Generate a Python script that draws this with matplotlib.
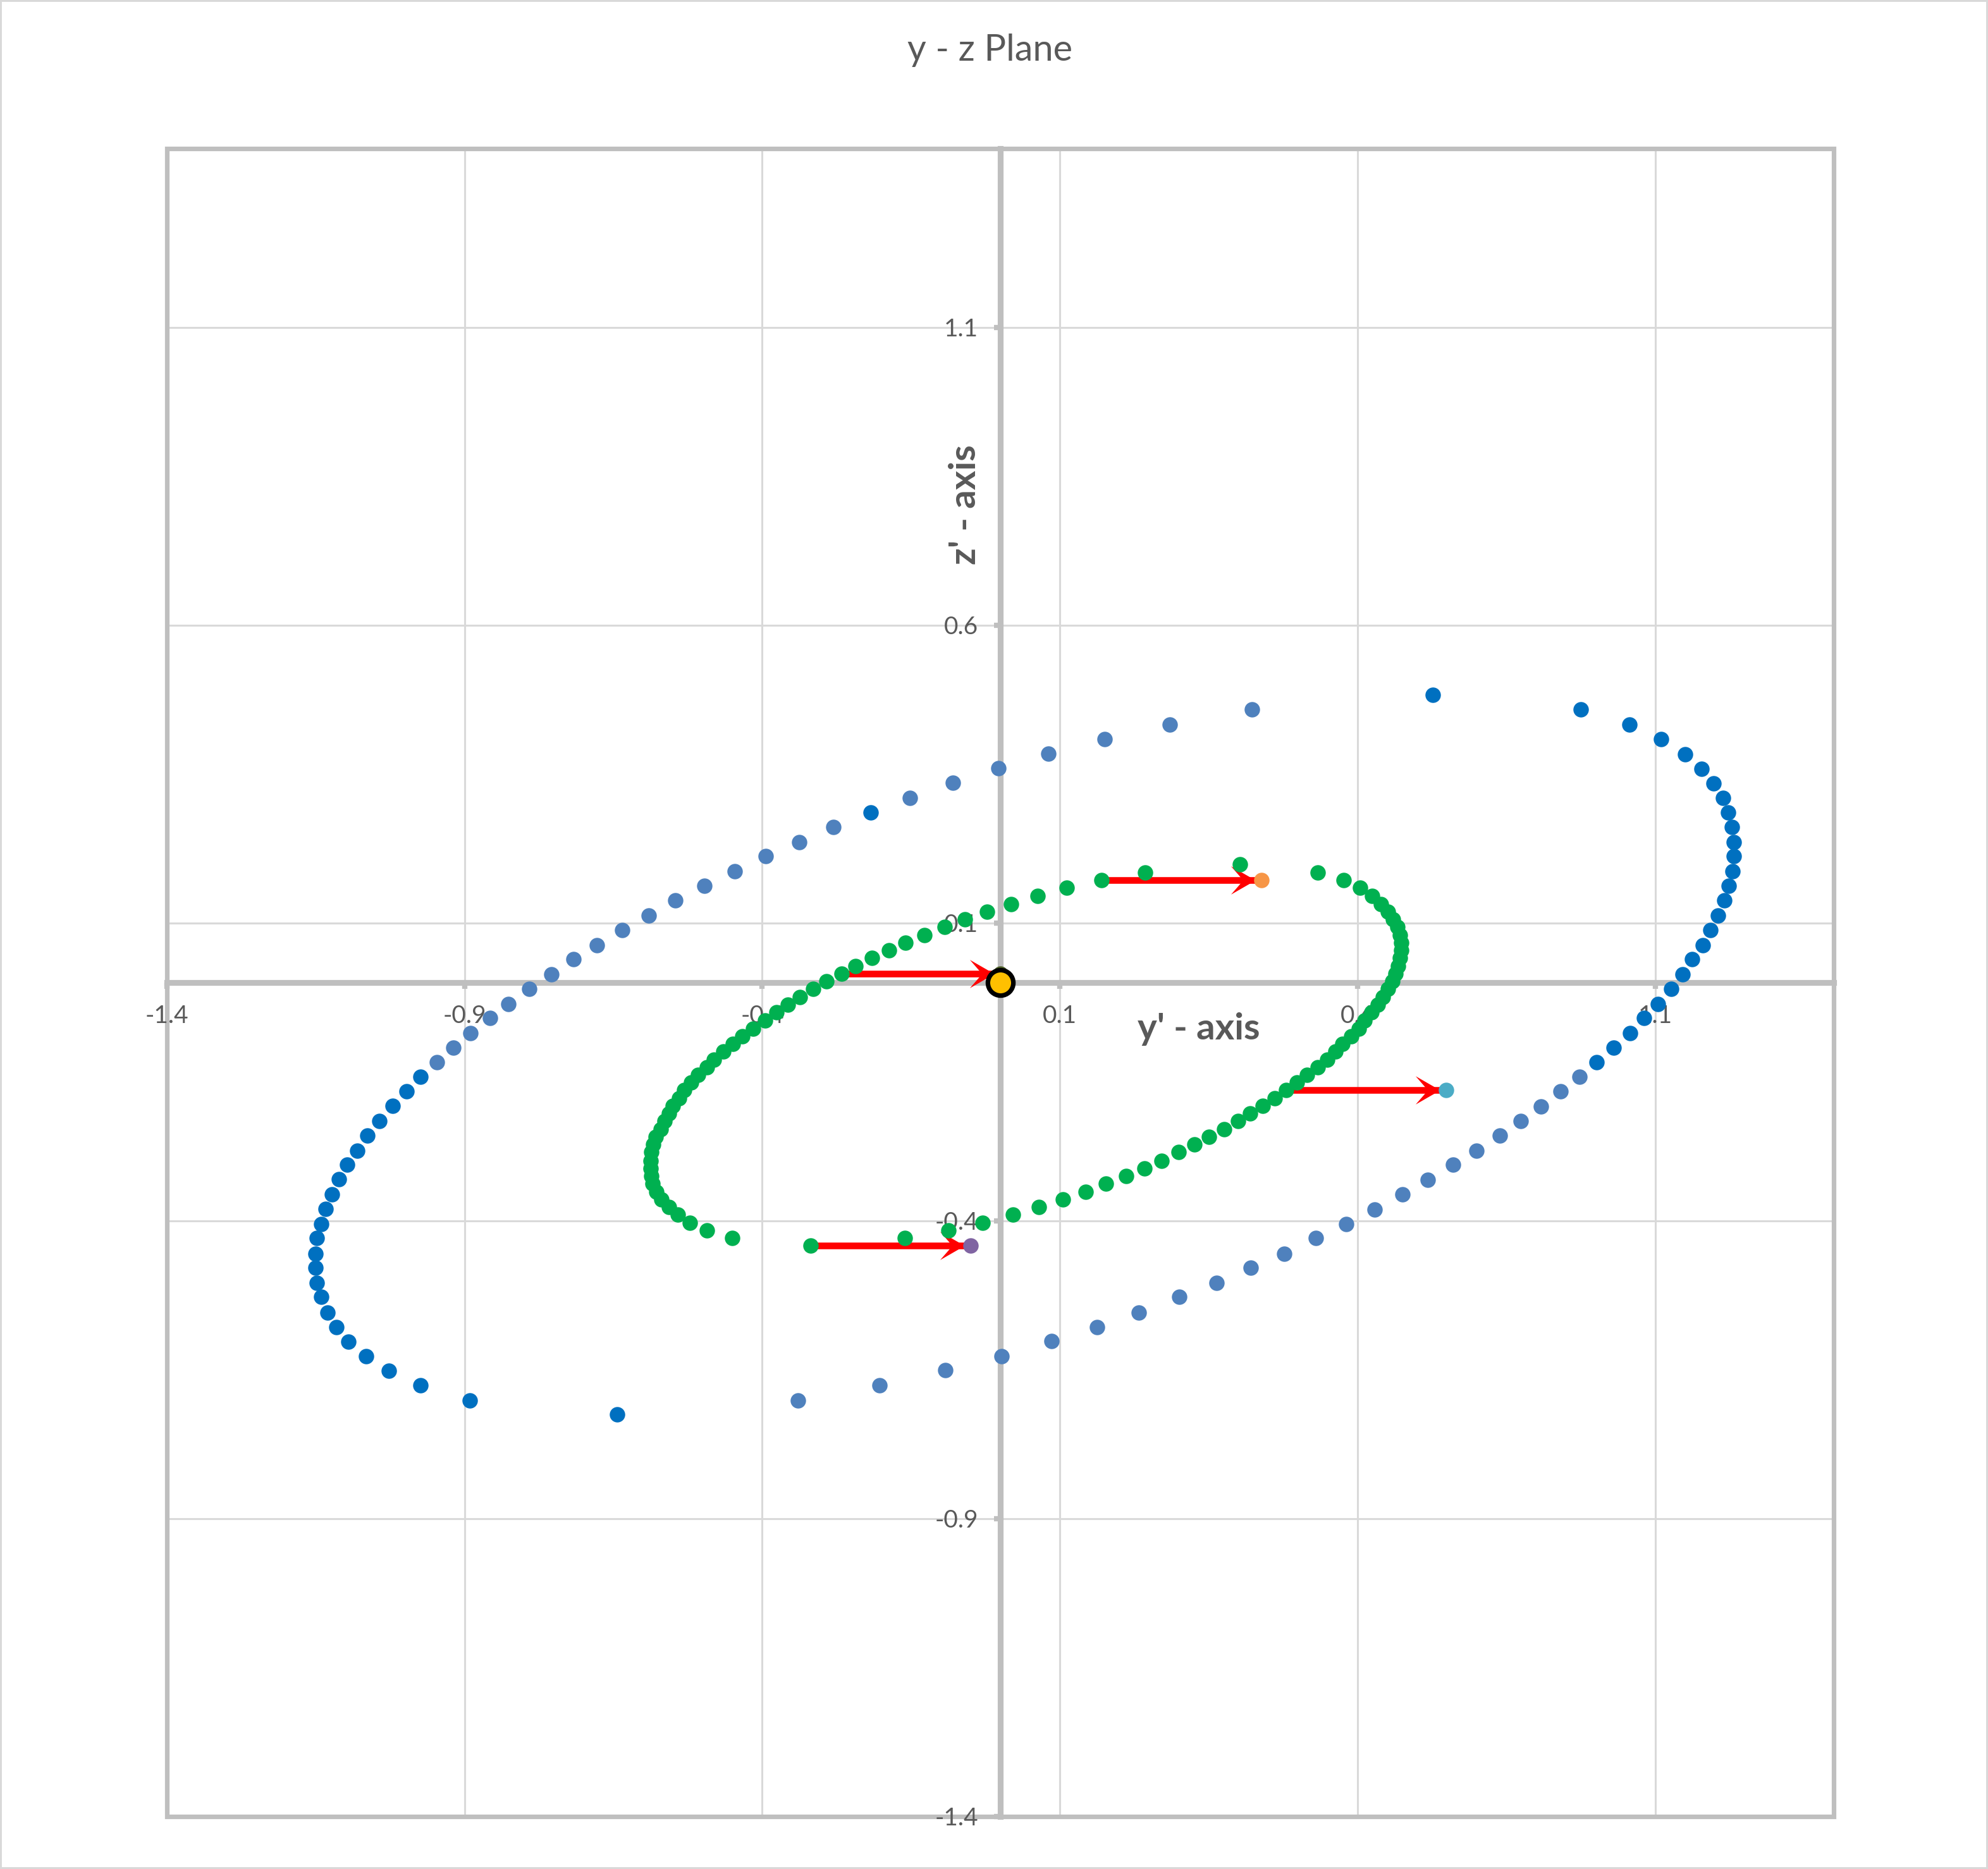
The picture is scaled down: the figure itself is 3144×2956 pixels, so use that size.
import matplotlib.pyplot as plt
from matplotlib.patches import Rectangle
from matplotlib.path import Path

plt.rcParams['font.family'] = ['Lato', 'DejaVu Sans']

# outer orbit, darker blue points (left end, two top points, right end)
blue_dark_y = [-0.644, -0.891, -0.974, -1.027, -1.066, -1.095, -1.115, -1.130, -1.141, -1.148,
               -1.150, -1.150, -1.148, -1.141, -1.134, -1.123, -1.111, -1.097, -1.080, -1.063,
               -1.043, -1.021, -0.998, -0.974,
               -0.218, 0.726,
               0.975, 1.057, 1.110, 1.150, 1.178, 1.198, 1.214, 1.223, 1.229, 1.232,
               1.232, 1.230, 1.224, 1.216, 1.206, 1.193, 1.180, 1.162, 1.146, 1.127,
               1.105, 1.081, 1.058, 1.030, 1.002]
blue_dark_z = [-0.725, -0.702, -0.676, -0.652, -0.627, -0.603, -0.578, -0.554, -0.528, -0.504,
               -0.479, -0.455, -0.429, -0.405, -0.380, -0.356, -0.330, -0.306, -0.282, -0.257,
               -0.233, -0.207, -0.183, -0.158,
               0.285, 0.483,
               0.459, 0.433, 0.409, 0.383, 0.359, 0.334, 0.310, 0.285, 0.261, 0.236,
               0.212, 0.187, 0.162, 0.138, 0.113, 0.088, 0.063, 0.039, 0.014, -0.011,
               -0.036, -0.060, -0.085, -0.109, -0.134]

# outer orbit, lighter blue points (upper-left and lower-right arcs)
blue_light_y = [-0.947, -0.919, -0.890, -0.857, -0.826, -0.791, -0.754, -0.717, -0.678, -0.635,
                -0.591, -0.546, -0.497, -0.446, -0.394, -0.338, -0.280,
                -0.152, -0.080, -0.003, 0.081, 0.175, 0.285, 0.423,
                0.973, 0.941, 0.908, 0.874, 0.839, 0.800, 0.760, 0.718, 0.675, 0.629,
                0.581, 0.530, 0.477, 0.421, 0.363, 0.301, 0.233, 0.162, 0.086, 0.002,
                -0.092, -0.203, -0.340]
blue_light_z = [-0.134, -0.109, -0.085, -0.059, -0.036, -0.011, 0.014, 0.039, 0.063, 0.088,
                0.113, 0.138, 0.162, 0.187, 0.212, 0.236, 0.261,
                0.310, 0.335, 0.360, 0.384, 0.409, 0.433, 0.459,
                -0.158, -0.183, -0.208, -0.233, -0.257, -0.282, -0.306, -0.331, -0.356, -0.381,
                -0.405, -0.429, -0.455, -0.479, -0.504, -0.528, -0.554, -0.578, -0.602, -0.627,
                -0.651, -0.676, -0.702]

# inner orbit, right branch (top point downwards)
green_right_y = [0.403, 0.533, 0.577, 0.604, 0.625, 0.639, 0.651, 0.660, 0.667, 0.671,
                 0.673, 0.673, 0.671, 0.668, 0.664, 0.658, 0.651, 0.643, 0.634, 0.623,
                 0.612, 0.602, 0.589, 0.575, 0.563, 0.549, 0.533, 0.515, 0.498, 0.480,
                 0.461, 0.441, 0.420, 0.399, 0.376, 0.351, 0.326, 0.299, 0.271, 0.242,
                 0.211, 0.177, 0.143, 0.105, 0.065, 0.021, -0.030, -0.087, -0.160]
green_right_z = [0.198, 0.185, 0.172, 0.159, 0.145, 0.132, 0.119, 0.106, 0.093, 0.080,
                 0.067, 0.054, 0.041, 0.028, 0.015, 0.002, -0.011, -0.024, -0.037, -0.050,
                 -0.064, -0.077, -0.090, -0.103, -0.116, -0.129, -0.142, -0.155, -0.168, -0.181,
                 -0.194, -0.207, -0.220, -0.233, -0.246, -0.259, -0.272, -0.285, -0.299, -0.312,
                 -0.325, -0.338, -0.351, -0.364, -0.377, -0.390, -0.403, -0.416, -0.429]

# inner orbit, left branch (bottom point upwards)
green_left_y = [-0.319, -0.450, -0.493, -0.522, -0.542, -0.557, -0.569, -0.578, -0.584, -0.586,
                -0.587, -0.587, -0.586, -0.583, -0.579, -0.571, -0.564, -0.557, -0.550, -0.540,
                -0.531, -0.520, -0.508, -0.493, -0.481, -0.465, -0.449, -0.433, -0.415, -0.395,
                -0.376, -0.357, -0.337, -0.315, -0.292, -0.267, -0.243, -0.216, -0.187, -0.159,
                -0.128, -0.094, -0.060, -0.022, 0.018, 0.063, 0.112, 0.170, 0.243]
green_left_z = [-0.442, -0.429, -0.416, -0.403, -0.390, -0.377, -0.364, -0.351, -0.338, -0.325,
                -0.312, -0.299, -0.285, -0.272, -0.259, -0.246, -0.233, -0.220, -0.207, -0.194,
                -0.181, -0.168, -0.155, -0.142, -0.129, -0.116, -0.103, -0.090, -0.077, -0.064,
                -0.050, -0.037, -0.024, -0.011, 0.002, 0.015, 0.028, 0.041, 0.054, 0.067,
                0.080, 0.093, 0.106, 0.119, 0.132, 0.145, 0.159, 0.172, 0.185]

# displacement arrows: from an inner-orbit point to a marked point
arrow_from_y = [0.170, -0.267, 0.480, -0.319]
arrow_to_y = [0.439, 0.000, 0.749, -0.050]
arrow_z = [0.172, 0.015, -0.181, -0.442]
arrow_target_colors = ['#F79646', '#4F6228', '#4BACC6', '#8064A2']

origin_y, origin_z = [0.0], [0.0]

tick_vals = [-1.4, -0.9, -0.4, 0.1, 0.6, 1.1]
tick_labels = ['-1.4', '-0.9', '-0.4', '0.1', '0.6', '1.1']

text_grey = '#595959'
axis_grey = '#BFBFBF'
grid_grey = '#D9D9D9'

fig = plt.figure(figsize=(15.72, 14.78), dpi=200)
fig.patch.set_edgecolor(grid_grey)
fig.patch.set_linewidth(2)
ax = fig.add_axes([0.084, 0.0281, 0.8384, 0.8924])
ax.set_xlim(-1.4, 1.4)
ax.set_ylim(-1.4, 1.4)

# gridlines by hand so they stay under the points
for t in tick_vals:
    ax.axvline(t, color=grid_grey, lw=1.1, zorder=0.5)
    ax.axhline(t, color=grid_grey, lw=1.1, zorder=0.5)

# axis lines cross at the origin, frame drawn separately
for side in ['top', 'right']:
    ax.spines[side].set_visible(False)
for side in ['left', 'bottom']:
    ax.spines[side].set_position('zero')
    ax.spines[side].set_color(axis_grey)
    ax.spines[side].set_linewidth(3.3)
    ax.spines[side].set_zorder(0.8)
ax.add_patch(Rectangle((0, 0), 1, 1, transform=ax.transAxes, fill=False,
                       edgecolor=axis_grey, lw=2.6, zorder=0.9, clip_on=False))

ax.set_xticks(tick_vals)
ax.set_yticks(tick_vals)
ax.set_xticklabels(tick_labels)
ax.set_yticklabels(tick_labels)
ax.tick_params(axis='both', direction='out', length=3.5, width=3, color=axis_grey,
               labelcolor=text_grey, labelsize=14, pad=9)

# arrows (under the points); head tip sits a little before the target point
head = Path([(-0.25, 0), (-1.25, 0.575), (-0.75, 0), (-1.25, -0.575), (-0.25, 0)],
            [Path.MOVETO, Path.LINETO, Path.LINETO, Path.LINETO, Path.CLOSEPOLY])
for y0, y1, z in zip(arrow_from_y, arrow_to_y, arrow_z):
    ax.plot([y0, y1], [z, z], color='#FF0000', lw=3.8, solid_capstyle='butt', zorder=2)
    ax.plot([y1], [z], marker=head, markersize=35, color='#FF0000', markeredgewidth=0,
            linestyle='none', zorder=2)

ms = 8.8
ax.plot(blue_light_y, blue_light_z, 'o', color='#4F81BD', markersize=ms, markeredgewidth=0, zorder=3)
ax.plot(blue_dark_y, blue_dark_z, 'o', color='#0070C0', markersize=ms, markeredgewidth=0, zorder=3)
ax.plot(green_right_y, green_right_z, 'o', color='#00B050', markersize=ms, markeredgewidth=0, zorder=3)
ax.plot(green_left_y, green_left_z, 'o', color='#00B050', markersize=ms, markeredgewidth=0, zorder=3)
for y1, z, c in zip(arrow_to_y, arrow_z, arrow_target_colors):
    ax.plot([y1], [z], 'o', color=c, markersize=ms, markeredgewidth=0, zorder=3.5)
ax.plot(origin_y, origin_z, 'o', markerfacecolor='#FFC000', markeredgecolor='black',
        markersize=14.5, markeredgewidth=2.6, zorder=4)

ax.set_xlabel("y' - axis", fontsize=21, fontweight='bold', color=text_grey)
ax.set_ylabel("z' - axis", fontsize=21, fontweight='bold', color=text_grey)
ax.xaxis.label.set_va('center')
ax.yaxis.label.set_va('center')
ax.xaxis.set_label_coords(0.619, 0.472)
ax.yaxis.set_label_coords(0.4788, 0.7866)

fig.text(0.498, 0.973, 'y - z Plane', ha='center', va='center', fontsize=20.8, color=text_grey)

fig.savefig('out.png', dpi=200, edgecolor=fig.get_edgecolor())
